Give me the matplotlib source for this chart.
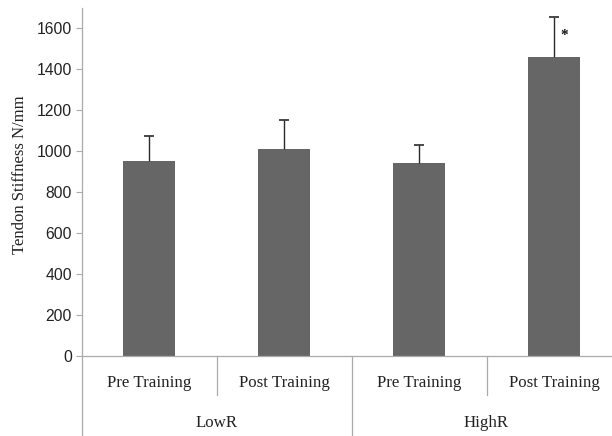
import matplotlib
matplotlib.use("Agg")
import matplotlib.pyplot as plt
import matplotlib.transforms as mtransforms
from matplotlib.lines import Line2D

sub_labels = ["Pre Training", "Post Training", "Pre Training", "Post Training"]
group_labels = ["LowR", "HighR"]
values = [948, 1010, 938, 1459]
err_up = [124, 140, 91, 193]
yticks = [0, 200, 400, 600, 800, 1000, 1200, 1400, 1600]

W, H = 612, 436
X0 = 81.5      # pixel of left axis
SLOT = 135.0   # pixels per category
Y0 = 355.5     # pixel of y = 0
fig = plt.figure(figsize=(W / 100, H / 100), dpi=100)
ax = fig.add_axes([X0 / W, (H - Y0) / H, (W - X0) / W, (Y0 - 7.5) / H])

x = list(range(len(values)))
ax.bar(x, values, width=0.39, color="#666666", zorder=2)
tops = [v + e for v, e in zip(values, err_up)]
ax.vlines(x, values, tops, color="#2a2a2a", lw=1.0, zorder=3)
ax.plot(x, tops, linestyle="none", marker="_", markersize=6.5, markeredgewidth=1.2,
        color="#2a2a2a", zorder=3)
ax.text(3.074, 1565, "*", fontsize=11, family="Liberation Serif", fontweight="bold",
        ha="center", va="center", color="#111111")

ax.set_xlim(-0.5, -0.5 + (W - X0) / SLOT)
ax.set_ylim(0, 1700)
ax.set_yticks(yticks)
ax.set_yticklabels([str(v) for v in yticks], family="Liberation Sans", fontsize=11.3, color="#222222")
ax.tick_params(axis="y", direction="out", length=4, color="#aaaaaa", width=0.8, pad=3)
ax.set_xticks([])
for s in ["top", "right"]:
    ax.spines[s].set_visible(False)
for s in ["left", "bottom"]:
    ax.spines[s].set_color("#aaaaaa")
    ax.spines[s].set_linewidth(0.9)

ax.set_ylabel("Tendon Stiffness N/mm", family="Liberation Serif", fontsize=12, color="#222222")
ax.yaxis.set_label_coords(-0.1, 0.52)

trans = mtransforms.blended_transform_factory(ax.transData, fig.transFigure)
def fy(py):
    return (H - py) / H
for xs in [0.5, 2.5]:
    ax.add_line(Line2D([xs, xs], [fy(Y0), fy(395)], transform=trans, color="#aaaaaa", lw=0.9, clip_on=False))
ax.add_line(Line2D([1.5, 1.5], [fy(Y0), fy(436)], transform=trans, color="#aaaaaa", lw=0.9, clip_on=False))
fig.add_artist(Line2D([X0 / W, X0 / W], [fy(Y0), fy(436)], color="#aaaaaa", lw=0.9))

for i, lab in enumerate(sub_labels):
    ax.text(i, fy(383), lab, transform=trans, ha="center", va="center",
            family="Liberation Serif", fontsize=12.2, color="#222222")
for g, lab in enumerate(group_labels):
    ax.text(0.5 + 2 * g, fy(423), lab, transform=trans, ha="center", va="center",
            family="Liberation Serif", fontsize=12.2, color="#222222")

fig.savefig("out.png", dpi=100)
